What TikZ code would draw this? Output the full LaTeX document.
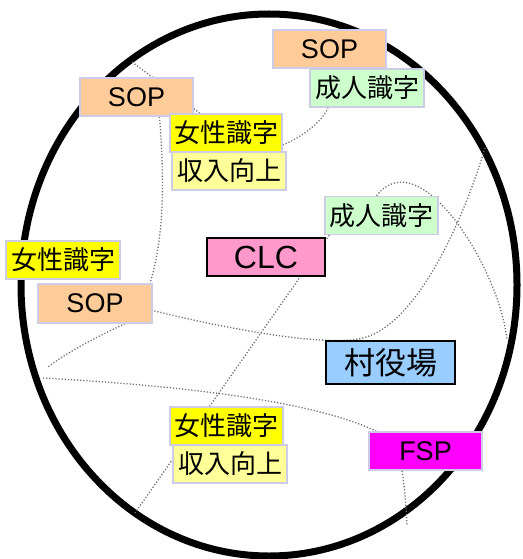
\documentclass[tikz,border=0pt]{standalone}
\usepackage{fontspec}
\setmainfont{Liberation Sans}
\newfontfamily\jpfont{Noto Sans CJK JP}
\pgfdeclarelayer{bg}
\pgfsetlayers{bg,main}
\definecolor{peach}{HTML}{FFCC99}
\definecolor{lgreen}{HTML}{CCFFCC}
\definecolor{yel}{HTML}{FFFF00}
\definecolor{lyel}{HTML}{FFFF99}
\definecolor{pinkc}{HTML}{FF99CC}
\definecolor{lblue}{HTML}{99CCFF}
\definecolor{magc}{HTML}{FF00FF}
\definecolor{lav}{HTML}{CCCCE6}
\definecolor{dotgray}{HTML}{6E6E6E}
\tikzset{
  box/.style={draw=lav, line width=1.5pt, minimum width=113pt, minimum height=38pt, inner sep=0pt,
    font=\fontsize{27}{30}\selectfont},
  jpbox/.style={box, font=\jpfont\fontsize{26}{30}\selectfont},
  keybox/.style={draw=black, line width=1.5pt, inner sep=0pt},
  dotline/.style={dotgray, line width=1.3pt, dash pattern=on 1.2pt off 1.9pt},
  rim/.style={draw=black, line width=7pt}
}
\begin{document}
\begin{tikzpicture}[x=1pt,y=-1pt]
\useasboundingbox (0,0) rectangle (522,559);
% boxes
\node[box, fill=peach] (sop1) at (329.5,49) {SOP};
\node[jpbox, fill=lgreen, minimum width=114pt] (adult1) at (367,88) {成人識字};
\node[box, fill=peach] (sop2) at (136.5,97) {SOP};
\node[jpbox, fill=yel, minimum width=112pt] (jos1) at (226,133) {女性識字};
\node[jpbox, fill=lyel, minimum width=114pt] (inc1) at (229,171) {収入向上};
\node[jpbox, fill=lgreen] (adult2) at (381.5,215.5) {成人識字};
\node[box, keybox, fill=pinkc, minimum width=118pt, minimum height=38pt,
      font=\fontsize{32}{34}\selectfont] (clc) at (266,257) {CLC};
\node[jpbox, fill=yel, minimum width=114pt] (jos2) at (63,260) {女性識字};
\node[box, fill=peach, minimum width=114pt, minimum height=39pt] (sop3) at (95,303.5) {SOP};
\node[box, keybox, fill=lblue, minimum width=129pt, minimum height=43pt,
      font=\jpfont\fontsize{31}{34}\selectfont] (vill) at (390.5,362.5) {村役場};
\node[jpbox, fill=yel] (jos3) at (226.5,426) {女性識字};
\node[jpbox, fill=lyel, minimum width=114pt] (inc2) at (230,464) {収入向上};
\node[box, fill=magc] (fsp) at (425.5,451) {FSP};
% free ends on the rim
\coordinate (r1) at (132,62);
\coordinate (r2) at (485,148);
\coordinate (r3) at (507,340);
\coordinate (r4) at (135,513);
\coordinate (r5) at (43,378);
\coordinate (r6) at (48,367);
\coordinate (r7) at (407,525);
\begin{pgfonlayer}{bg}
\draw[rim] (269,285) ellipse [x radius=248, y radius=271];
\draw[dotline] (r1) -- (jos1);
\draw[dotline] ([xshift=23pt]sop2.south) .. controls (164,175) and (165,235) .. ([xshift=55pt]sop3.north);
\draw[dotline] ([yshift=-12pt]jos1.east) .. controls (302,137) and (322,122) .. ([xshift=-39pt]adult1.south);
\draw[dotline] (r2) .. controls (464,218) and (418,324) .. (363,338)
               .. controls (323,348) and (215,326) .. ([yshift=-7pt]sop3.east);
\draw[dotline] ([xshift=-5pt]adult2.north) .. controls (420,140) and (500,270) .. (r3);
\draw[dotline] ([xshift=5pt]adult2.south west) -- (r4);
\draw[dotline] (r5) .. controls (150,384) and (305,397) .. ([xshift=8pt]fsp.north west);
\draw[dotline] ([xshift=30pt]sop3.south) .. controls (105,333) and (70,350) .. (r6);
\draw[dotline] ([xshift=-23.5pt]fsp.south) .. controls (405,490) and (406,505) .. (r7);
\end{pgfonlayer}
\end{tikzpicture}
\end{document}
